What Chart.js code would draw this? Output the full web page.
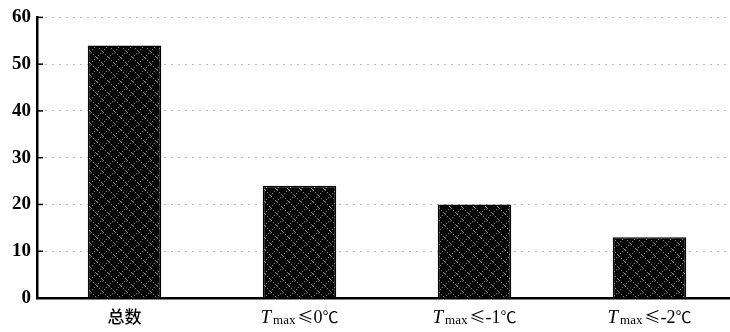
<!DOCTYPE html>
<html><head><meta charset="utf-8">
<script src="https://cdn.jsdelivr.net/npm/chart.js@4/dist/chart.umd.min.js"></script>
<style>html,body{margin:0;padding:0;background:#fff;overflow:hidden}#wrap{width:737px;height:332px;position:relative}</style>
</head><body><div id="wrap"><canvas id="c"></canvas></div>
<script>
const categories = ['总数', 'T_max≤0℃', 'T_max≤-1℃', 'T_max≤-2℃'];
const counts = [54, 24, 20, 13];
const yTicks = [0, 10, 20, 30, 40, 50, 60];

function makePattern() {
  const p = document.createElement('canvas');
  p.width = 12; p.height = 12;
  const g = p.getContext('2d');
  g.fillStyle = '#050505'; g.fillRect(0, 0, 12, 12);
  g.fillStyle = 'rgba(255,255,255,0.5)';
  for (let i = 0; i < 12; i += 2) { g.fillRect((i + 3) % 12, i, 1, 1); g.fillRect((20 - i) % 12, i + 1, 1, 1); }
  g.fillStyle = 'rgba(255,255,255,0.25)';
  g.fillRect(6, 5, 1, 1); g.fillRect(1, 9, 1, 1);
  return g.createPattern(p, 'repeat');
}
const ctx0 = document.getElementById('c').getContext('2d');
const pat = makePattern();

const SERIF = '"Liberation Serif"';
const CJK = '"Noto Sans CJK SC"';

const innerTicks = {
  id: 'innerTicks',
  afterDraw(chart) {
    const y = chart.scales.y, x = chart.scales.x, c = chart.ctx;
    c.save();
    c.strokeStyle = '#000'; c.lineWidth = 1.5;
    yTicks.forEach(v => {
      const py = y.getPixelForValue(v);
      c.beginPath(); c.moveTo(x.left, py); c.lineTo(x.left + 6, py); c.stroke();
    });
    c.fillStyle = '#000'; c.textBaseline = 'alphabetic';
    categories.forEach((lab, i) => {
      const cx = x.getPixelForValue(i);
      const base = 323;
      if (lab.startsWith('T_max')) {
        const rest = lab.slice(5);
        const parts = [
          {t: 'T', f: 'italic 19px ' + SERIF, dy: 0, gap: 2},
          {t: 'max', f: '13px ' + SERIF, dy: 1, gap: 2}
        ];
        for (const ch of rest) {
          const sym = (ch === '≤' || ch === '℃');
          parts.push({t: ch, f: (sym ? '16px ' + CJK : '18px ' + SERIF), dy: 0, gap: 0});
        }
        let w = 0;
        parts.forEach(p => { c.font = p.f; p.w = c.measureText(p.t).width; w += p.w + p.gap; });
        let px = cx - w / 2;
        parts.forEach(p => { c.font = p.f; c.fillText(p.t, px, base + p.dy); px += p.w + p.gap; });
      } else {
        c.font = '500 17px ' + CJK;
        c.textAlign = 'center';
        c.fillText(lab, cx, base);
        c.textAlign = 'left';
      }
    });
    c.restore();
  }
};

new Chart(ctx0, {
  type: 'bar',
  data: { labels: categories, datasets: [{ data: counts, backgroundColor: pat, borderColor: '#000', borderWidth: 1.5, barPercentage: 0.42, categoryPercentage: 1 }] },
  options: {
    responsive: true, maintainAspectRatio: false, animation: false,
    layout: { padding: { top: 14, right: 0, left: 0, bottom: 0 } },
    plugins: { legend: { display: false }, tooltip: { enabled: false } },
    scales: {
      x: {
        grid: { display: false, drawTicks: false },
        border: { display: true, color: '#000', width: 2.5 },
        ticks: { display: false },
        afterFit(s) { s.height = 34; }
      },
      y: {
        min: 0, max: 60,
        afterBuildTicks(s) { s.ticks = yTicks.map(v => ({ value: v })); },
        grid: { color: '#777', drawTicks: false, lineWidth: 1 },
        border: { display: true, color: '#000', width: 2.5, dash: [1, 6] },
        ticks: { color: '#000', padding: 6, font: { family: SERIF, size: 19, weight: 'bold' } },
        afterFit(s) { s.width = 37; }
      }
    }
  },
  plugins: [innerTicks]
});
</script></body></html>
